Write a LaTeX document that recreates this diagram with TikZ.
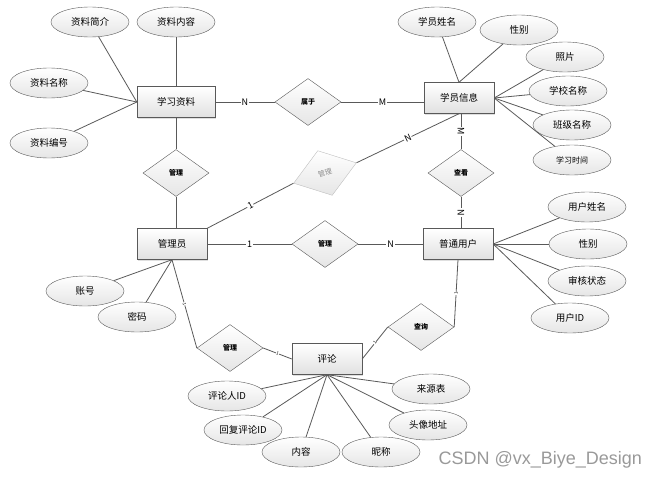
\documentclass[tikz,border=0pt]{standalone}
\usepackage{fontspec}
\usepackage{tikz}
\usetikzlibrary{shapes.geometric,shadows}
\setmainfont{Noto Sans CJK SC}
\newfontfamily\markfont{Liberation Sans}
\tikzset{
    entity-box/.style = {draw=black!65, rectangle, top color=white, bottom color=black!12, minimum width=70pt, minimum height=31pt, inner sep=0pt, font=\fontsize{9.5}{11}\selectfont, drop shadow={opacity=0.25, shadow xshift=1.2pt, shadow yshift=-1.2pt}},
    attr-ellipse/.style = {draw=black!65, ellipse, top color=white, bottom color=black!10, minimum width=78pt, minimum height=30pt, inner sep=0pt, font=\fontsize{9.5}{11}\selectfont},
    rel-diamond/.style = {draw=black!65, diamond, top color=white, bottom color=black!10, minimum width=66pt, minimum height=47pt, inner sep=0pt, aspect=1.4, font=\fontsize{7}{8}\selectfont\bfseries},
    ghost-diamond/.style = {rel-diamond, draw=black!25, text=black!45, font=\fontsize{7}{8}\selectfont},
    link/.style = {draw=black!65, line width=0.8pt},
    card-label/.style = {midway, fill=white, inner sep=0.8pt, font=\fontsize{9}{10}\selectfont},
    tick-label/.style = {midway, sloped, fill=white, inner sep=0.3pt, font=\fontsize{4.5}{5}\selectfont},
}

\begin{document}
\begin{tikzpicture}[x=1pt, y=-1pt]
\useasboundingbox (0,0) rectangle (656,479);

\node[entity-box, minimum width=78pt] (xxzl) at (176,102) {学习资料};
\node[entity-box] (xyxx) at (459,98) {学员信息};
\node[entity-box] (gly) at (172,244) {管理员};
\node[entity-box] (ptyh) at (458,244) {普通用户};
\node[entity-box] (pl) at (327,359) {评论};

\node[rel-diamond] (sy) at (308,102) {属于};
\node[rel-diamond] (gl-zl) at (176,173) {管理};
\node[ghost-diamond, rotate=18] (gl-xy) at (325,173) {管理};
\node[rel-diamond] (ck) at (461,173) {查看};
\node[rel-diamond] (gl-yh) at (325,244) {管理};
\node[rel-diamond] (gl-pl) at (230,348) {管理};
\node[rel-diamond] (cx) at (421,327) {查询};

\node[attr-ellipse] (zljj) at (90,22) {资料简介};
\node[attr-ellipse] (zlnr) at (176,22) {资料内容};
\node[attr-ellipse] (zlmc) at (49,83) {资料名称};
\node[attr-ellipse] (zlbh) at (49,143) {资料编号};

\node[attr-ellipse] (xyxm) at (437,22) {学员姓名};
\node[attr-ellipse] (xb1) at (519,30) {性别};
\node[attr-ellipse] (zp) at (565,57) {照片};
\node[attr-ellipse] (xxmc) at (568,91) {学校名称};
\node[attr-ellipse] (bjmc) at (572,125) {班级名称};
\node[attr-ellipse, font=\fontsize{8}{9}\selectfont] (xxsj) at (572,160) {学习时间};

\node[attr-ellipse] (yhxm) at (587,207) {用户姓名};
\node[attr-ellipse] (xb2) at (588,244) {性别};
\node[attr-ellipse] (shzt) at (587,281) {审核状态};
\node[attr-ellipse] (yhid) at (570,318) {用户ID};

\node[attr-ellipse] (zh) at (85,291) {账号};
\node[attr-ellipse] (mm) at (137,317) {密码};

\node[attr-ellipse] (plrid) at (227,396) {评论人ID};
\node[attr-ellipse] (hfplid) at (243,430) {回复评论ID};
\node[attr-ellipse] (nr) at (301,452) {内容};
\node[attr-ellipse] (nc) at (381,452) {昵称};
\node[attr-ellipse] (lyb) at (431,389) {来源表};
\node[attr-ellipse] (txdz) at (428,425) {头像地址};

\draw[link] (xxzl) -- node[card-label]{N} (sy);
\draw[link] (sy.east) -- node[card-label]{M} (sy.east -| xyxx.west);
\draw[link] (xxzl.south -| gl-zl.north) -- (gl-zl.north);
\draw[link] (gl-zl.south) -- (gl-zl.south |- gly.north);
\draw[link] (gly.north east) -- node[card-label, sloped]{1} (gl-xy.west);
\draw[link] (gl-xy.east) -- node[card-label, sloped]{N} (xyxx.south);
\draw[link] (ck.north |- xyxx.south) -- node[card-label, rotate=-90]{M} (ck.north);
\draw[link] (ck.south) -- node[card-label, rotate=-90]{N} (ck.south |- ptyh.north);
\draw[link] (gly) -- node[card-label]{1} (gl-yh);
\draw[link] (gl-yh) -- node[card-label]{N} (ptyh);
\draw[link] (gly.south) -- node[tick-label]{1} (gl-pl.west);
\draw[link] (gl-pl.east) -- node[tick-label]{1} (pl.west);
\draw[link] (pl.east) -- node[tick-label]{1} (cx.west);
\draw[link] (cx.east) -- node[tick-label]{1} (ptyh.south);

\draw[link] (zlnr) -- (xxzl.north);
\foreach \a in {zljj,zlmc,zlbh}
    \draw[link] (\a) -- (xxzl.west);
\foreach \a in {xyxm,xb1}
    \draw[link] (\a) -- (xyxx.north);
\foreach \a in {zp,xxmc,bjmc,xxsj}
    \draw[link] (\a) -- (xyxx.east);
\foreach \a in {yhxm,xb2,shzt,yhid}
    \draw[link] (\a) -- (ptyh.east);
\foreach \a in {zh,mm}
    \draw[link] (\a) -- (gly.south);
\foreach \a in {plrid,hfplid,nr,nc,lyb,txdz}
    \draw[link] (\a) -- (pl.south);

\node[font=\markfont\fontsize{18}{18}\selectfont, text=black!40, anchor=west] (csdn) at (435,460) {CSDN @vx\_Biye\_Design};
\end{tikzpicture}
\end{document}
